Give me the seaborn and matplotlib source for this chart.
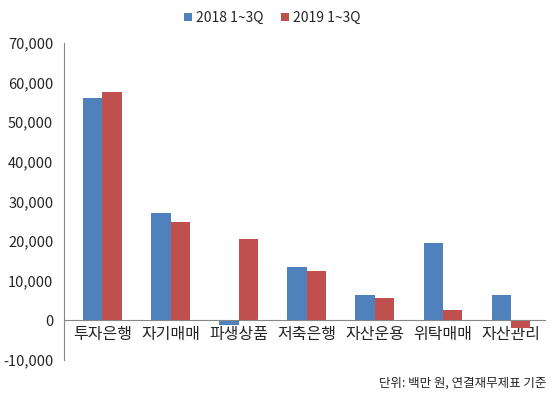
import pandas as pd
import numpy as np
import matplotlib.pyplot as plt
import seaborn as sns
from matplotlib.ticker import FuncFormatter

categories = ["투자은행", "자기매매", "파생상품", "저축은행", "자산운용", "위탁매매", "자산관리"]
series = ["2018 1~3Q", "2019 1~3Q"]
v2018 = [56200, 27100, -1100, 13500, 6500, 19500, 6300]
v2019 = [57600, 24900, 20600, 12400, 5600, 2600, -1800]
colors = ["#4F81BD", "#C0504D"]

df = pd.DataFrame({
    "category": categories * 2,
    "series": [series[0]] * len(categories) + [series[1]] * len(categories),
    "value": v2018 + v2019,
})

sns.set_style("white")
plt.rcParams['font.family'] = ['Noto Sans CJK KR', 'DejaVu Sans']

fig = plt.figure(figsize=(5.5, 3.94), dpi=100)
ax = fig.add_axes([0.117, 0.086, 0.874, 0.805])

sns.barplot(data=df, x="category", y="value", hue="series", palette=colors,
            width=0.57, saturation=1, linewidth=0, ax=ax, legend=True)

ax.set_ylim(-10000, 70000)
ax.set_xlim(-0.56, 6.5)
ax.set_yticks(range(-10000, 70001, 10000))
ax.yaxis.set_major_formatter(FuncFormatter(lambda v, p: f"{int(v):,}"))
ax.set_xlabel("")
ax.set_ylabel("")

gray = "#868686"
for s in ["top", "right"]:
    ax.spines[s].set_visible(False)
ax.spines["left"].set_color(gray)
ax.spines["bottom"].set_color(gray)
ax.spines["bottom"].set_position(("data", 0))
ax.tick_params(axis="y", length=4, color=gray, labelsize=10.5, pad=4)
ax.tick_params(axis="x", which="major", length=0, labelsize=11.5, pad=4)
ax.set_xticks(np.arange(-0.5, 7, 1), minor=True)
ax.tick_params(axis="x", which="minor", length=5, color=gray, direction="out")

handles, labels = ax.get_legend_handles_labels()
ax.get_legend().remove()
fig.legend(handles, labels, loc="center", bbox_to_anchor=(0.495, 0.955), ncol=2, frameon=False,
           fontsize=10, handlelength=0.55, handleheight=0.55, handletextpad=0.3,
           columnspacing=1.3)

fig.text(0.993, 0.028, "단위: 백만 원, 연결재무제표 기준", ha="right", va="center", fontsize=9)

plt.savefig("out.png", dpi=100)
